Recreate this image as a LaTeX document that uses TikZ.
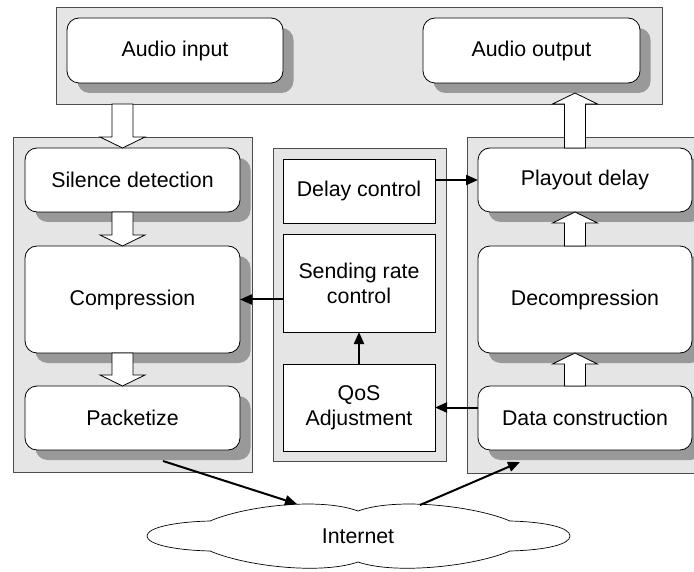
\documentclass[tikz,border=0pt]{standalone}
\usepackage{fontspec}
\setmainfont{Liberation Sans}
\usetikzlibrary{arrows.meta,calc,shadows}
\begin{document}
\begin{tikzpicture}[x=1pt,y=-1pt,
  font=\fontsize{21.33}{25}\selectfont,
  panel/.style={draw=black!70, fill=black!10, line width=0.9pt, inner sep=0pt, outer sep=0pt},
  rbox/.style={draw=black, fill=white, rounded corners=12pt, line width=0.8pt, inner sep=0pt, outer sep=0pt, align=center,
     drop shadow={shadow xshift=10.5pt, shadow yshift=-10pt, fill=black!40, opacity=1}},
  sbox/.style={draw=black, fill=white, line width=0.8pt, inner sep=0pt, outer sep=0pt, align=center},
  flow/.style={line width=2pt, -{Triangle[length=12pt,width=10pt]}},
  blk/.style={draw=black, fill=white, line width=0.8pt, line join=miter},
  bdown/.style={blk, to path={let \p1=(\tikztostart), \p2=(\tikztotarget) in
     (\x1-10.5pt,\y1) -- (\x1-10.5pt,\y2+11pt) -- (\x1-22.5pt,\y2+11pt) -- (\x2,\y2)
     -- (\x1+22.5pt,\y2+11pt) -- (\x1+10.5pt,\y2+11pt) -- (\x1+10.5pt,\y1) -- cycle}},
  bup/.style={blk, to path={let \p1=(\tikztostart), \p2=(\tikztotarget) in
     (\x1-10.5pt,\y1) -- (\x1-10.5pt,\y2-11pt) -- (\x1-22.5pt,\y2-11pt) -- (\x2,\y2)
     -- (\x1+22.5pt,\y2-11pt) -- (\x1+10.5pt,\y2-11pt) -- (\x1+10.5pt,\y1) -- cycle}}
]
\useasboundingbox (0,0) rectangle (694,572);
\fill[white] (0,0) rectangle (694,572);

% panels
\node[panel, minimum width=606pt, minimum height=97pt] (tp) at (359,55.5) {};
\node[panel, minimum width=239pt, minimum height=335pt] (lp) at (132.5,304.5) {};
\node[panel, minimum width=173pt, minimum height=313pt] (mp) at (359.5,304.5) {};
\node[panel, minimum width=239pt, minimum height=336pt] (rp) at (586.5,305) {};

% boxes
\node[rbox, minimum width=216pt, minimum height=65pt] (ai) at (175,50.5) {Audio input};
\node[rbox, minimum width=217pt, minimum height=65pt] (ao) at (531.5,50.5) {Audio output};
\node[rbox, minimum width=215pt, minimum height=64pt] (sd) at (132.5,180) {Silence detection};
\node[rbox, minimum width=215pt, minimum height=107pt] (comp) at (132.5,299.5) {Compression};
\node[rbox, minimum width=215pt, minimum height=64pt] (pk) at (132.5,418) {Packetize};
\node[rbox, minimum width=214pt, minimum height=64pt] (pd) at (585,180) {Playout delay};
\node[rbox, minimum width=214pt, minimum height=107pt] (dec) at (585,299.5) {Decompression};
\node[rbox, minimum width=214pt, minimum height=64pt] (dcon) at (585,418) {Data construction};
\node[sbox, minimum width=152pt, minimum height=64pt] (dc) at (359,191) {Delay control};
\node[sbox, minimum width=152pt, minimum height=98pt] (sr) at (359,283) {Sending rate\\control};
\node[sbox, minimum width=152pt, minimum height=87pt] (qos) at (359,407.5) {QoS\\Adjustment};

% cloud
\draw[fill=white, line width=0.7pt]
  (210,521) .. controls (172,522) and (147,528) .. (147,536)
  .. controls (147,544) and (172,550) .. (210,551)
  .. controls (245,566) and (320,575) .. (358,562)
  .. controls (396,575) and (475,566) .. (510,551)
  .. controls (548,550) and (570,544) .. (570,536)
  .. controls (570,528) and (548,522) .. (510,521)
  .. controls (475,506) and (396,497) .. (358,511)
  .. controls (320,497) and (245,506) .. (210,521) -- cycle;
\node (inet) at (358,536) {Internet};

% block arrows
\coordinate (lx) at (122.5,0);
\coordinate (rx) at (575,0);
\draw[bdown] (tp.south -| lx) to (sd.north -| lx);
\draw[bdown] (sd.south -| lx) to (comp.north -| lx);
\draw[bdown] (comp.south -| lx) to (pk.north -| lx);
\draw[bup] (dcon.north -| rx) to (dec.south -| rx);
\draw[bup] (dec.north -| rx) to (pd.south -| rx);
\draw[bup] (pd.north -| rx) to ($(tp.south -| rx)+(0,-11)$);

% black arrows
\draw[flow] (dc.east |- pd.west) -- (pd.west);
\draw[flow] (sr.west |- comp.east) -- (comp.east);
\draw[flow] (qos.north) -- (sr.south);
\draw[flow] (dcon.west |- qos.east) -- (qos.east);
\draw[flow] ($(pk.south)+(30.5,11)$) -- ($(inet)+(-61,-32)$);
\draw[flow] ($(inet)+(62,-31)$) -- ($(dcon.south)+(-65,12)$);
\end{tikzpicture}
\end{document}
